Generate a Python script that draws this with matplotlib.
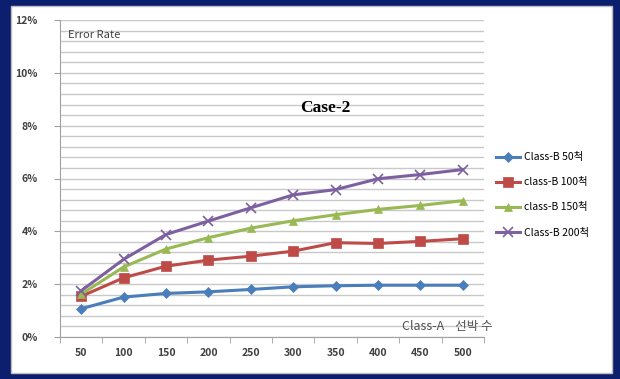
import matplotlib
matplotlib.use('Agg')
import matplotlib.pyplot as plt
import numpy as np
from matplotlib.patches import Rectangle
from matplotlib.ticker import MultipleLocator, FixedLocator

plt.rcParams['font.family'] = ['Noto Sans CJK KR', 'DejaVu Sans']

# data (error rate in %)
ship_counts = ['50', '100', '150', '200', '250', '300', '350', '400', '450', '500']
series_names = ['Class-B 50척', 'class-B 100척', 'class-B 150척', 'Class-B 200척']
b50 = [1.07, 1.51, 1.65, 1.71, 1.80, 1.90, 1.94, 1.96, 1.96, 1.96]
b100 = [1.54, 2.24, 2.68, 2.91, 3.06, 3.25, 3.57, 3.54, 3.62, 3.72]
b150 = [1.62, 2.65, 3.33, 3.76, 4.12, 4.40, 4.63, 4.83, 4.98, 5.16]
b200 = [1.75, 2.94, 3.88, 4.39, 4.89, 5.38, 5.58, 5.99, 6.15, 6.34]

colors = ['#4a7ebb', '#be4b48', '#98b954', '#7d60a0']
markers = ['D', 's', '^', 'x']
msizes = [5.5, 7, 6, 7]

fig = plt.figure(figsize=(6.2, 3.79), dpi=100)
fig.patch.set_facecolor('#0c1f6e')
# white chart panel
fig.patches.append(Rectangle((11 / 620, 1 - 373 / 379), 601 / 620, 367 / 379,
                             transform=fig.transFigure, facecolor='white',
                             edgecolor='#bfbfbf', lw=1, zorder=-5))

ax = fig.add_axes([60 / 620, 1 - 337 / 379, 424 / 620, 317 / 379])
ax.set_facecolor('white')

x = np.arange(len(ship_counts))
for vals, name, c, m, ms in zip([b50, b100, b150, b200], series_names, colors, markers, msizes):
    ax.plot(x, vals, color=c, lw=2.2, marker=m, markersize=ms, label=name,
            markeredgewidth=1.2 if m == 'x' else 0.5, markeredgecolor=c, zorder=3)

ax.set_xlim(-0.5, 9.5)
ax.set_ylim(0, 12)

# gridlines every 0.4 %, labels every 2 %
ax.yaxis.set_major_locator(MultipleLocator(2))
ax.yaxis.set_minor_locator(MultipleLocator(0.4))
ax.set_yticks(np.arange(0, 13, 2))
ax.set_yticklabels([f'{v}%' for v in range(0, 13, 2)])
ax.grid(axis='y', which='both', color='#c8c8c8', lw=1)
ax.set_axisbelow(True)

ax.set_xticks(x)
ax.set_xticklabels(ship_counts)
ax.xaxis.set_minor_locator(FixedLocator(np.arange(-0.5, 10, 1)))
ax.tick_params(axis='x', which='major', length=0, pad=8, labelsize=7.5, labelcolor='#404040')
ax.tick_params(axis='x', which='minor', length=4, color='#a0a0a0', direction='out')
ax.tick_params(axis='y', which='major', length=4, pad=12, color='#a0a0a0',
               labelsize=7.5, labelcolor='#404040')
ax.tick_params(axis='y', which='minor', length=0)
for lab in ax.get_xticklabels() + ax.get_yticklabels():
    lab.set_fontweight('bold')

for s in ['top', 'right']:
    ax.spines[s].set_visible(False)
for s in ['left', 'bottom']:
    ax.spines[s].set_color('#a0a0a0')

ax.text(0.019, 0.97, 'Error Rate', transform=ax.transAxes, ha='left', va='top',
        fontsize=8, color='#404040')
ax.text(1.02, 0.034, 'Class-A    선박 수', transform=ax.transAxes, ha='right', va='center',
        fontsize=9, color='#505050')
fig.text(325 / 620, 1 - 108 / 379, 'Case-2', ha='center', va='center',
         fontsize=12.5, fontweight='bold', family='Liberation Serif', color='black')

fig.legend(loc='upper left', bbox_to_anchor=(492 / 620, 1 - 148 / 379),
           frameon=False, fontsize=7.5, handlelength=2.3, labelspacing=1.45,
           handletextpad=0.4, borderaxespad=0)

fig.savefig('out.png', dpi=100, facecolor=fig.get_facecolor())
